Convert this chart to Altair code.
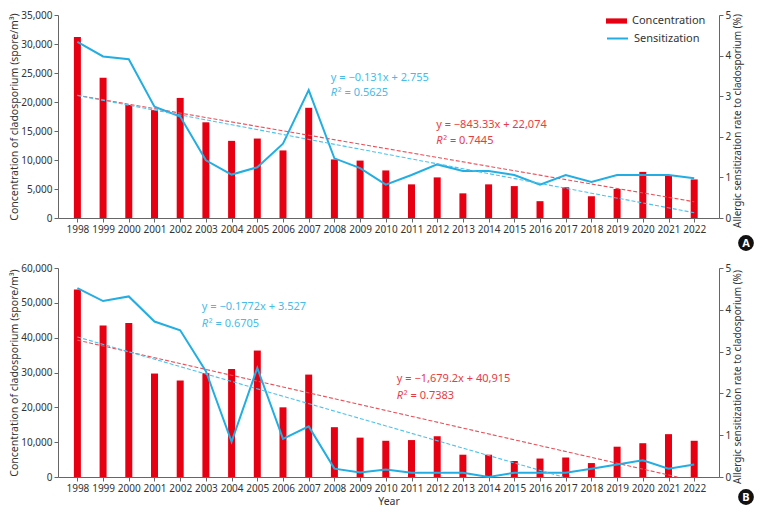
import altair as alt
import pandas as pd

# ---------------- data ----------------
years = list(range(1998, 2023))

# Panel A
conc_a = [31200, 24200, 19500, 18600, 20700, 16500, 13300, 13700, 11650, 19000,
          10100, 9900, 8200, 5800, 7000, 4250, 5800, 5500, 2900, 5300,
          3750, 5000, 7950, 7300, 6650]
sens_a = [4.34, 3.98, 3.91, 2.74, 2.50, 1.42, 1.07, 1.25, 1.83, 3.15,
          1.47, 1.23, 0.82, 1.06, 1.32, 1.16, 1.16, 1.06, 0.82, 1.06,
          0.89, 1.06, 1.06, 1.06, 0.98]
trend_conc_years_a = [1998, 2022]
trend_conc_a = [21150, 2800]
trend_sens_years_a = [1998, 2022]
trend_sens_a = [3.02, 0.13]

# Panel B
conc_b = [53800, 43500, 44200, 29700, 27700, 29800, 31000, 36300, 20000, 29400,
          14300, 11300, 10400, 10600, 11700, 6400, 6400, 4600, 5300, 5600,
          4000, 8700, 9700, 12300, 10400]
sens_b = [4.52, 4.21, 4.32, 3.72, 3.51, 2.53, 0.84, 2.61, 0.91, 1.21,
          0.20, 0.11, 0.18, 0.10, 0.10, 0.10, 0.00, 0.10, 0.10, 0.10,
          0.20, 0.30, 0.40, 0.20, 0.30]
trend_conc_years_b = [1998, 2021.35]
trend_conc_b = [39300, 0]
trend_sens_years_b = [1998, 2016.9]
trend_sens_b = [3.35, 0]

# equation annotations
eq_conc_a = ["y = \u2212843.33x + 22,074", "\u00b2 = 0.7445"]
eq_sens_a = ["y = \u22120.131x + 2.755", "\u00b2 = 0.5625"]
eq_conc_b = ["y = \u22121,679.2x + 40,915", "\u00b2 = 0.7383"]
eq_sens_b = ["y = \u22120.1772x + 3.527", "\u00b2 = 0.6705"]

RED = "#E60012"
RED_TXT = "#EA3A44"
RED_DASH = "#EC4F58"
BLUE = "#22AEE2"
BLUE_TXT = "#45BCEA"
BLUE_DASH = "#4DC2EC"
TXT = "#333333"
FONT = "Noto Sans"

X_DOMAIN = [1997.44, 2022.77]
W = 661


def panel(conc, sens, tcy, tcv, tsy, tsv, left_max, left_step,
          eq_c, eq_s, pos_c, pos_s, height, legend, xtitle, badge, badge_y):
    x_enc = alt.X(
        "year:Q",
        scale=alt.Scale(domain=X_DOMAIN, nice=False, zero=False),
        axis=alt.Axis(values=years, format="d", title=xtitle, labelOverlap=False,
                      labelFlush=False, grid=False, titlePadding=3),
    )
    y_left = alt.Y(
        "v:Q",
        scale=alt.Scale(domain=[0, left_max], nice=False),
        axis=alt.Axis(values=list(range(0, left_max + 1, left_step)), format=",d",
                      title="Concentration of cladosporium (spore/m\u00b3)",
                      grid=False, orient="left", titlePadding=1),
    )
    y_right = alt.Y(
        "v:Q",
        scale=alt.Scale(domain=[0, 5], nice=False),
        axis=alt.Axis(values=[0, 1, 2, 3, 4, 5], grid=False, orient="right",
                      title="Allergic sensitization rate to cladosporium (%)",
                      titleAngle=270, titlePadding=12, titleFontSize=10,
                      titleY=height / 2 + 4),
    )

    bars_df = pd.DataFrame({"year": years, "v": conc, "series": "Concentration"})
    line_df = pd.DataFrame({"year": years, "v": sens, "series": "Sensitization"})
    tc_df = pd.DataFrame({"year": tcy, "v": tcv})
    ts_df = pd.DataFrame({"year": tsy, "v": tsv})

    if legend:
        fill = alt.Fill("series:N",
                        scale=alt.Scale(domain=["Concentration"], range=[RED]),
                        legend=alt.Legend(title=None, orient="none", legendX=548, legendY=-4.5,
                                          symbolType="M-1,-0.25H1V0.25H-1Z", symbolSize=441,
                                          symbolStrokeWidth=0, labelOffset=5, padding=0,
                                          labelFontSize=11, labelColor=TXT, labelFont=FONT))
        stroke = alt.Stroke("series:N",
                            scale=alt.Scale(domain=["Sensitization"], range=[BLUE]),
                            legend=alt.Legend(title=None, orient="none", legendX=548, legendY=12,
                                              symbolType="stroke", symbolSize=441,
                                              symbolStrokeWidth=2, labelOffset=5, padding=0,
                                              labelFontSize=11, labelColor=TXT, labelFont=FONT))
    else:
        fill = alt.value(RED)
        stroke = alt.value(BLUE)

    bars = alt.Chart(bars_df).mark_bar(size=7).encode(x=x_enc, y=y_left, fill=fill)
    tline_c = alt.Chart(tc_df).mark_line(strokeDash=[4, 2], strokeWidth=1.1, color=RED_DASH).encode(
        x=x_enc, y=y_left)
    txt_c1 = alt.Chart(pd.DataFrame({"year": [pos_c[0]], "v": [pos_c[1]], "t": [eq_c[0]]})).mark_text(
        align="left", baseline="middle", fontSize=11, font=FONT, color=RED_TXT).encode(
        x=x_enc, y=y_left, text="t:N")
    txt_c2 = alt.Chart(pd.DataFrame({"year": [pos_c[0]], "v": [pos_c[2]], "t": ["R"]})).mark_text(
        align="left", baseline="middle", fontSize=11, font=FONT, fontStyle="italic", color=RED_TXT).encode(
        x=x_enc, y=y_left, text="t:N")
    txt_c3 = alt.Chart(pd.DataFrame({"year": [pos_c[0]], "v": [pos_c[2]], "t": [eq_c[1]]})).mark_text(
        align="left", baseline="middle", fontSize=11, font=FONT, color=RED_TXT, dx=7).encode(
        x=x_enc, y=y_left, text="t:N")
    left = alt.layer(bars, tline_c, txt_c1, txt_c2, txt_c3)

    line = alt.Chart(line_df).mark_line(strokeWidth=2).encode(x=x_enc, y=y_right, stroke=stroke)
    tline_s = alt.Chart(ts_df).mark_line(strokeDash=[4, 2], strokeWidth=1.1, color=BLUE_DASH).encode(
        x=x_enc, y=y_right)
    txt_s1 = alt.Chart(pd.DataFrame({"year": [pos_s[0]], "v": [pos_s[1]], "t": [eq_s[0]]})).mark_text(
        align="left", baseline="middle", fontSize=11, font=FONT, color=BLUE_TXT).encode(
        x=x_enc, y=y_right, text="t:N")
    txt_s2 = alt.Chart(pd.DataFrame({"year": [pos_s[0]], "v": [pos_s[2]], "t": ["R"]})).mark_text(
        align="left", baseline="middle", fontSize=11, font=FONT, fontStyle="italic", color=BLUE_TXT).encode(
        x=x_enc, y=y_right, text="t:N")
    txt_s3 = alt.Chart(pd.DataFrame({"year": [pos_s[0]], "v": [pos_s[2]], "t": [eq_s[1]]})).mark_text(
        align="left", baseline="middle", fontSize=11, font=FONT, color=BLUE_TXT, dx=7).encode(
        x=x_enc, y=y_right, text="t:N")
    bdf = pd.DataFrame({"label": [badge]})
    b_circ = alt.Chart(bdf).mark_circle(size=250, color="#111111", opacity=1).encode(
        x=alt.value(688), y=alt.value(badge_y))
    b_txt = alt.Chart(bdf).mark_text(fontSize=11, fontWeight="bold", color="white", font=FONT,
                                     baseline="middle", align="center").encode(
        x=alt.value(688), y=alt.value(badge_y + 0.5), text="label:N")
    right = alt.layer(line, tline_s, txt_s1, txt_s2, txt_s3, b_circ, b_txt)

    return alt.layer(left, right).resolve_scale(y="independent").properties(width=W, height=height)


top = panel(conc_a, sens_a, trend_conc_years_a, trend_conc_a, trend_sens_years_a, trend_sens_a,
            35000, 5000, eq_conc_a, eq_sens_a,
            (2011.96, 16060, 13190), (2007.86, 3.45, 3.07),
            203, True, None, "A", 228)
bottom = panel(conc_b, sens_b, trend_conc_years_b, trend_conc_b, trend_sens_years_b, trend_sens_b,
               60000, 10000, eq_conc_b, eq_sens_b,
               (2010.43, 28130, 23250), (2002.84, 4.07, 3.66),
               209, False, "Year", "B", 229)

chart = alt.vconcat(top, bottom, spacing=12).properties(
    padding={"top": 2, "left": 1, "right": 0, "bottom": 0}
).configure_view(
    stroke=None
).configure_axis(
    labelFont=FONT, labelFontSize=10, labelColor=TXT,
    titleFont=FONT, titleFontSize=10.5, titleColor=TXT, titleFontWeight="normal",
    domainColor="#666666", tickColor="#666666", tickSize=4, labelPadding=2,
)

chart.save("out.html", embed_options={"renderer": "svg", "actions": False})
